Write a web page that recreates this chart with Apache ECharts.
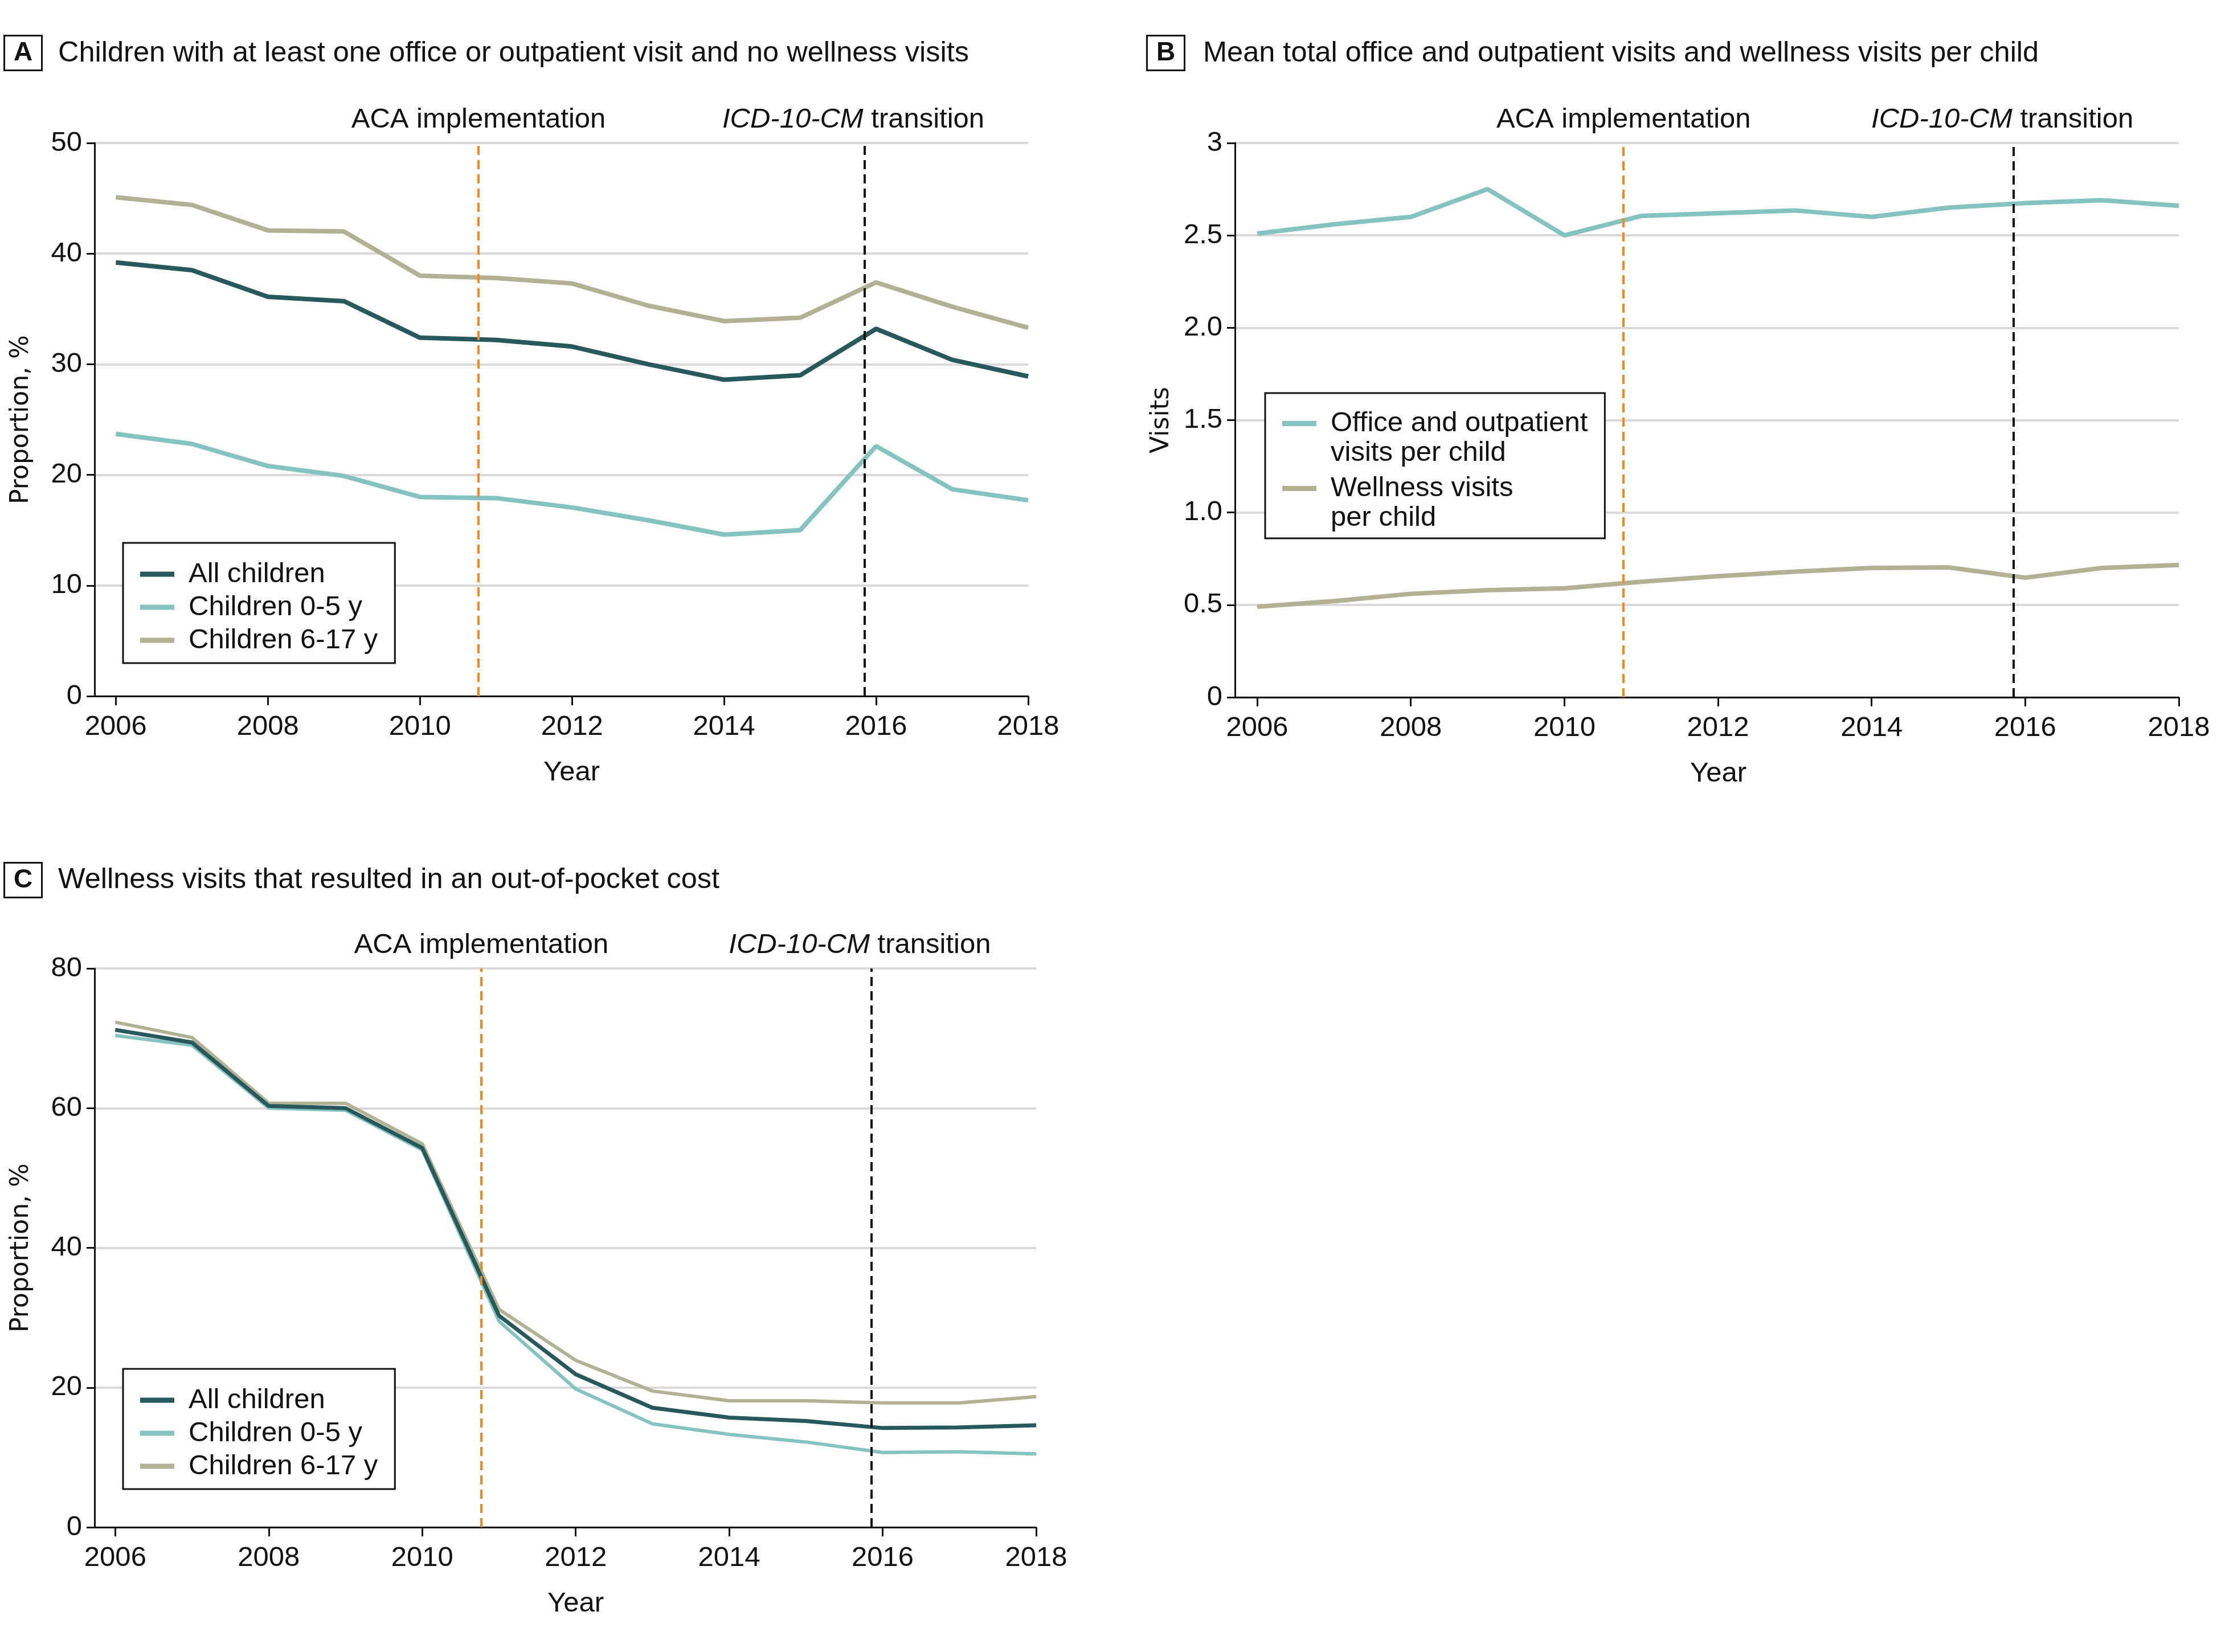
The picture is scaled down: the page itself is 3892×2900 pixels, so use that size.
<!DOCTYPE html>
<html>
<head>
<meta charset="utf-8">
<script src="https://cdn.jsdelivr.net/npm/echarts@6/dist/echarts.min.js"></script>
<style>
html,body{margin:0;padding:0;background:#fff;}
#chart{width:3892px;height:2900px;}
</style>
</head>
<body>
<div id="chart"></div>
<script>
// ---------- data ----------
const years = [2006,2007,2008,2009,2010,2011,2012,2013,2014,2015,2016,2017,2018];
const xTicks = [2006,2008,2010,2012,2014,2016,2018];

// Panel A: children with >=1 office/outpatient visit and no wellness visits (%)
const aAll   = [39.2,38.5,36.1,35.7,32.4,32.2,31.6,30.0,28.6,29.0,33.2,30.4,28.9];
const a0to5  = [23.7,22.8,20.8,19.9,18.0,17.9,17.05,15.9,14.6,15.0,22.6,18.7,17.7];
const a6to17 = [45.1,44.4,42.1,42.0,38.0,37.8,37.3,35.3,33.9,34.2,37.4,35.2,33.3];

// Panel B: mean visits per child
const bOffice   = [2.51,2.56,2.60,2.75,2.50,2.605,2.62,2.635,2.60,2.65,2.675,2.69,2.66];
const bWellness = [0.49,0.52,0.56,0.58,0.59,0.625,0.655,0.68,0.70,0.703,0.647,0.70,0.716];

// Panel C: wellness visits with out-of-pocket cost (%)
const cAll   = [71.2,69.4,60.3,60.0,54.3,30.3,21.9,17.1,15.7,15.2,14.2,14.3,14.6];
const c0to5  = [70.4,69.0,60.0,59.7,54.0,29.5,19.8,14.8,13.3,12.2,10.7,10.8,10.5];
const c6to17 = [72.3,70.1,60.7,60.7,54.9,31.2,23.9,19.5,18.1,18.1,17.8,17.8,18.7];

// reference events (fractional year)
const acaYear = 2010.77;
const icdYear = 2015.85;

const seriesNames = ['All children','Children 0-5 y','Children 6-17 y'];
const bNames = ['Office and outpatient visits per child','Wellness visits per child'];
const bLegendText = ['Office and outpatient\nvisits per child','Wellness visits\nper child'];

// ---------- style ----------
const FONT = "'Liberation Sans',Arial,sans-serif";
const FONT_AX = "'DejaVu Sans','Liberation Sans',sans-serif";
const C_ALL = '#27585c', C_05 = '#84c3c0', C_617 = '#b2b194';
const ORANGE = '#f7861e';
const FS = 49;

const pair = arr => years.map((y,i)=>[y,arr[i]]);

function xAxisCfg(gridIndex, minX, shift){
  return {
    type:'value', gridIndex, min:minX, max:2018,
    name:'Year', nameLocation:'middle', nameGap:110,
    nameTextStyle:{fontFamily:FONT,fontSize:FS,color:'#111',padding:[0,0,0,shift]},
    axisLine:{show:true,onZero:false,lineStyle:{color:'#111',width:3}},
    axisTick:{show:true,length:16,lineStyle:{color:'#111',width:3},customValues:xTicks},
    axisLabel:{fontFamily:FONT,fontSize:FS,color:'#111',margin:30,customValues:xTicks,formatter:v=>String(v)},
    splitLine:{show:false}
  };
}
function yAxisCfg(gridIndex, max, interval, name, fmt){
  return {
    type:'value', gridIndex, min:0, max, interval,
    name, nameLocation:'middle', nameGap:106, nameRotate:90,
    nameTextStyle:{fontFamily:FONT_AX,fontSize:44,color:'#111'},
    axisLine:{show:true,lineStyle:{color:'#111',width:3}},
    axisTick:{show:true,length:14,lineStyle:{color:'#111',width:3}},
    axisLabel:{fontFamily:FONT,fontSize:FS,color:'#111',margin:22,formatter:fmt||(v=>String(v))},
    splitLine:{show:true,lineStyle:{color:'#d9d9d9',width:4}}
  };
}
function markLines(){
  return {
    silent:true, symbol:['none','none'], animation:false,
    label:{show:true,position:'end',distance:16,fontFamily:FONT,fontSize:FS,color:'#111',
      rich:{i:{fontStyle:'italic',fontFamily:FONT,fontSize:FS,color:'#111'}}},
    data:[
      {xAxis:acaYear,lineStyle:{color:ORANGE,width:4,type:[16,9]},label:{formatter:'ACA implementation'}},
      {xAxis:icdYear,lineStyle:{color:'#111',width:4,type:[16,9]},label:{formatter:'{i|ICD-10-CM} transition',offset:[-20,0]}}
    ]
  };
}
function lineSeries(name, color, data, xi, yi, width, ml){
  const s = {type:'line', name, xAxisIndex:xi, yAxisIndex:yi, data:pair(data),
    symbol:'none', smooth:false, animation:false,
    lineStyle:{color,width:width||8}, itemStyle:{color}};
  if(ml) s.markLine = markLines();
  return s;
}
function legendCfg(names, left, top, opts){
  return Object.assign({
    data:names, orient:'vertical', left, top,
    backgroundColor:'#fff', borderColor:'#111', borderWidth:3,
    padding:[29,30,14,30], itemGap:6,
    icon:'rect', itemWidth:60, itemHeight:9,
    selectedMode:false,
    textStyle:{fontFamily:FONT,fontSize:FS,color:'#111',lineHeight:52,padding:[0,0,0,20]}
  }, opts||{});
}
function boxTitle(letter,left,top){
  return {text:letter,left,top,padding:[6,17,6,17],borderColor:'#111',borderWidth:3,
    textStyle:{fontFamily:FONT,fontSize:46,fontWeight:'bold',color:'#111',lineHeight:50}};
}
function textTitle(text,left,top){
  return {text,left,top,padding:0,textStyle:{fontFamily:FONT,fontSize:50.5,fontWeight:'normal',color:'#111',lineHeight:56}};
}

const chart = echarts.init(document.getElementById('chart'), null, {renderer:'canvas',width:3892,height:2900});
chart.setOption({
  backgroundColor:'#fff',
  animation:false,
  title:[
    boxTitle('A',7,62), textTitle('Children with at least one office or outpatient visit and no wellness visits',102,66),
    boxTitle('B',2013,62), textTitle('Mean total office and outpatient visits and wellness visits per child',2112,66),
    boxTitle('C',7,1514), textTitle('Wellness visits that resulted in an out-of-pocket cost',102,1517)
  ],
  grid:[
    {left:166,top:251,width:1639,height:971},
    {left:2168,top:251,width:1657,height:973},
    {left:166,top:1700,width:1653,height:981}
  ],
  xAxis:[xAxisCfg(0,2005.72,36), xAxisCfg(1,2005.71,40), xAxisCfg(2,2005.73,36)],
  yAxis:[
    yAxisCfg(0,50,10,'Proportion, %'),
    yAxisCfg(1,3,0.5,'Visits',v=>(v===0||v===3)?String(v):v.toFixed(1)),
    yAxisCfg(2,80,20,'Proportion, %')
  ],
  legend:[
    legendCfg(seriesNames,216,953),
    legendCfg(bNames,2221,690,{
      padding:[27,30,10,30], itemGap:10, itemHeight:104,
      icon:'path://M0,22H60V31H0Z M0,0H0.01V0.01H0Z M0,103.99H0.01V104H0Z',
      textStyle:{fontFamily:FONT,fontSize:FS,color:'#111',lineHeight:52,padding:[0,0,0,20]},
      formatter:n=>bLegendText[bNames.indexOf(n)]
    }),
    legendCfg(seriesNames,216,2403)
  ],
  series:[
    lineSeries(seriesNames[2],C_617,a6to17,0,0),
    lineSeries(seriesNames[1],C_05,a0to5,0,0),
    lineSeries(seriesNames[0],C_ALL,aAll,0,0,8,true),
    lineSeries(bNames[0],C_05,bOffice,1,1),
    lineSeries(bNames[1],C_617,bWellness,1,1,8,true),
    lineSeries(seriesNames[2],C_617,c6to17,2,2,6),
    lineSeries(seriesNames[1],C_05,c0to5,2,2,6),
    lineSeries(seriesNames[0],C_ALL,cAll,2,2,7,true)
  ]
});
</script>
</body>
</html>
